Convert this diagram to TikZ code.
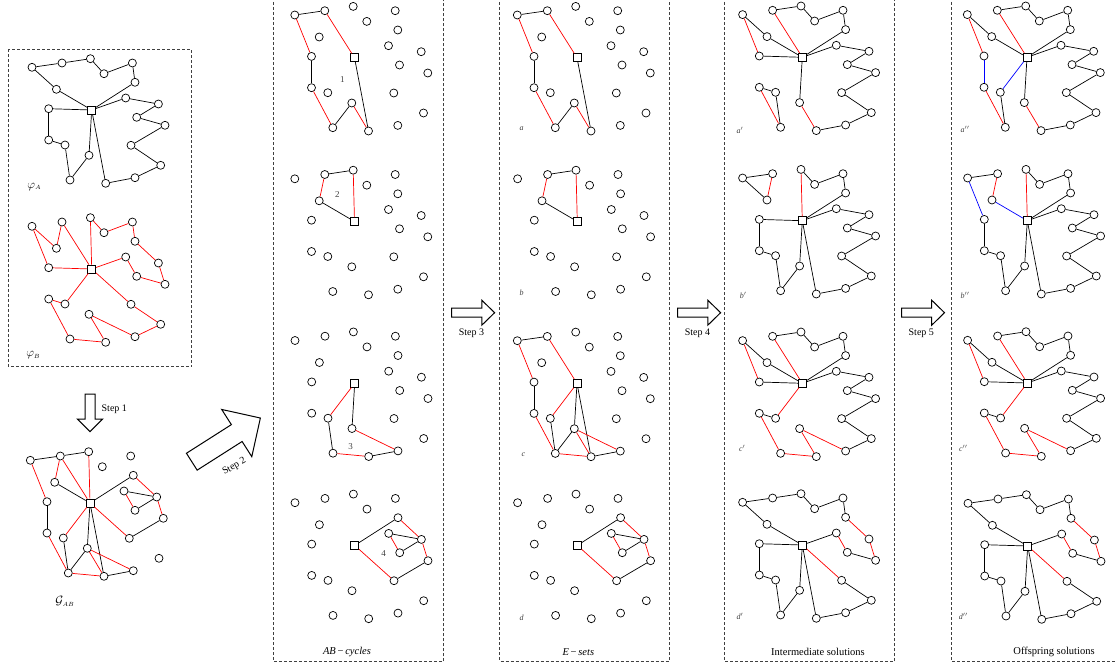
\documentclass[tikz,border=0pt]{standalone}
\usepackage{fontspec}
\setmainfont{Liberation Serif}
\begin{document}
\begin{tikzpicture}[x=1pt,y=-1pt,
  cust/.style={circle, draw, fill=white, inner sep=0pt, minimum size=8pt, line width=0.7pt},
  dep/.style={rectangle, draw, fill=white, inner sep=0pt, minimum size=8pt, line width=0.7pt},
  eA/.style={line width=0.7pt, black},
  eB/.style={line width=0.7pt, red},
  eC/.style={line width=0.7pt, blue},
  panel/.style={draw=black!75, line width=0.7pt, dash pattern=on 3pt off 2pt},
  bigarrow/.style={draw, line width=1pt, fill=white, line join=miter},
  steptxt/.style={font=\fontsize{10}{12}\selectfont, inner sep=0pt},
  lbl/.style={font=\fontsize{8}{9}\selectfont\itshape, text=black!75, inner sep=0pt},
  numlbl/.style={font=\fontsize{9}{10}\selectfont, text=black!75, inner sep=0pt},
  ttl/.style={font=\fontsize{10.5}{12}\selectfont, inner sep=0pt}]
\useasboundingbox (0,0) rectangle (1116,669);
\def\layout{1/-59.7/-42.7, 2/-29.7/-47, 3/-1.3/-51.3, 4/12.3/-36.3, 5/40.7/-47, 6/43.3/-27.7, 7/-35.3/-20.7, 8/34/-12, 9/66.7/-6, 10/45/7.3, 11/73.3/15.3, 12/-43/-1.3, 13/39.3/35.3, 14/-43/30, 15/-26.7/35, 16/-2.7/45.3, 17/69/55.3, 18/-21.7/70, 19/14/73.3, 20/43.3/67.7}
\newcommand\placegraph[3]{%
  \begin{scope}[shift={(#2,#3)}]
    \node[dep] (#1D) at (0,0) {};
    \foreach \k/\px/\py in \layout {\node[cust] (#1\k) at (\px,\py) {};}
  \end{scope}}
\newcommand\edgeset[3]{\foreach \u/\v in {#3} {\draw[#2] (#1\u) -- (#1\v);}}
\newcommand\bigarr[4]{% shaft length, total, shaft half, head half
  \draw[bigarrow] (0,-#3) -- (#1,-#3) -- (#1,-#4) -- (#2,0) -- (#1,#4) -- (#1,#3) -- (0,#3) -- cycle;}

% panels
\draw[panel] (8.3,49.3) rectangle (191.7,366.7);
\draw[panel] (273.5,-3) rectangle (443.5,661.7);
\draw[panel] (499.7,-3) rectangle (669.3,661.2);
\draw[panel] (724.7,-3) rectangle (894.7,661.7);
\draw[panel] (951.7,-3) rectangle (1125,661.7);

% parents
\placegraph{pa}{91.7}{110}
\edgeset{pa}{eA}{D/7,7/1,1/2,2/3,3/4,4/5,5/6,6/D,D/12,12/14,14/15,15/18,18/16,16/D,D/8,8/9,9/10,10/11,11/13,13/17,17/20,20/19,19/D}
\placegraph{pb}{91.7}{269}
\edgeset{pb}{eB}{D/12,12/1,1/7,7/2,2/D,D/3,3/4,4/5,5/6,6/9,9/11,11/10,10/8,8/D,D/15,15/14,14/18,18/19,19/16,16/20,20/17,17/13,13/D}
\node[font=\fontsize{12}{14}\selectfont, inner sep=0pt] (lpa) at (34.3,186.7) {$\varphi_{\scriptscriptstyle A}$};
\node[font=\fontsize{12}{14}\selectfont, inner sep=0pt] (lpb) at (33.3,355) {$\varphi_{\scriptscriptstyle B}$};

% G_AB
\placegraph{g}{90}{503}
\edgeset{g}{eA}{D/7,1/2,2/3,6/D,12/14,15/18,18/16,16/D,8/9,9/10,11/13,20/19,19/D}
\edgeset{g}{eB}{12/1,7/2,2/D,D/3,6/9,9/11,10/8,D/15,14/18,18/19,19/16,16/20,13/D}
\node[font=\fontsize{12}{14}\selectfont, inner sep=0pt] (lg) at (65,601.7) {$\mathcal{G}_{\scriptscriptstyle AB}$};

% AB-cycles
\placegraph{ca}{354.5}{57.7}
\edgeset{ca}{eA}{1/2,12/14,18/16,19/D}
\edgeset{ca}{eB}{2/D,1/12,14/18,16/19}
\placegraph{cb}{354.5}{221.5}
\edgeset{cb}{eA}{2/3,7/D}
\edgeset{cb}{eB}{3/D,7/2}
\placegraph{cc}{354.7}{383.2}
\edgeset{cc}{eA}{15/18,19/20,16/D}
\edgeset{cc}{eB}{D/15,18/19,20/16}
\placegraph{cd}{354.7}{545.4}
\edgeset{cd}{eA}{D/6,9/8,10/9,11/13}
\edgeset{cd}{eB}{6/9,8/10,9/11,13/D}
\node[numlbl] (n1) at (342.4,80) {1};
\node[numlbl] (n2) at (337.3,194.7) {2};
\node[numlbl] (n3) at (350.7,446.7) {3};
\node[numlbl] (n4) at (383.7,553.3) {4};
\node[ttl] (t1) at (347,651.7) {\textit{AB}\,−\,\textit{cycles}};

% E-sets
\placegraph{ea}{577}{57.7}
\edgeset{ea}{eA}{1/2,12/14,18/16,19/D}
\edgeset{ea}{eB}{2/D,1/12,14/18,16/19}
\placegraph{eb}{577.3}{221.5}
\edgeset{eb}{eA}{2/3,7/D}
\edgeset{eb}{eB}{3/D,7/2}
\placegraph{ec}{577}{383.4}
\edgeset{ec}{eA}{1/2,12/14,18/16,19/D,15/18,19/20,16/D}
\edgeset{ec}{eB}{2/D,1/12,14/18,16/19,D/15,18/19,20/16}
\placegraph{ed}{577.3}{545.4}
\edgeset{ed}{eA}{D/6,9/8,10/9,11/13}
\edgeset{ed}{eB}{6/9,8/10,9/11,13/D}
\node[lbl] (la) at (521.7,129) {a};
\node[lbl] (lb) at (521.7,292.7) {b};
\node[lbl] (lc) at (523.3,454.7) {c};
\node[lbl] (ld) at (521.7,617.7) {d};
\node[ttl] (t2) at (578.3,651.7) {\textit{E}\,−\,\textit{sets}};

% Intermediate
\placegraph{ia}{802.3}{57.3}
\edgeset{ia}{eA}{D/7,7/1,2/3,3/4,4/5,5/6,6/D,D/12,14/15,15/18,16/D,D/8,8/9,9/10,10/11,11/13,13/17,17/20,20/19}
\edgeset{ia}{eB}{2/D,1/12,14/18,16/19}
\placegraph{ib}{802.3}{220.7}
\edgeset{ib}{eA}{7/1,1/2,3/4,4/5,5/6,6/D,D/12,12/14,14/15,15/18,18/16,16/D,D/8,8/9,9/10,10/11,11/13,13/17,17/20,20/19,19/D}
\edgeset{ib}{eB}{3/D,7/2}
\placegraph{ic}{802.3}{383.3}
\edgeset{ic}{eA}{D/7,7/1,2/3,3/4,4/5,5/6,6/D,D/12,14/15,D/8,8/9,9/10,10/11,11/13,13/17,17/20}
\edgeset{ic}{eB}{2/D,1/12,14/18,16/19,D/15,18/19,20/16}
\placegraph{id}{802.3}{545}
\edgeset{id}{eA}{D/7,7/1,1/2,2/3,3/4,4/5,5/6,D/12,12/14,14/15,15/18,18/16,16/D,D/8,10/11,13/17,17/20,20/19,19/D}
\edgeset{id}{eB}{6/9,8/10,9/11,13/D}
\node[lbl] (lia) at (740,130) {a$'$};
\node[lbl] (lib) at (743.3,295) {b$'$};
\node[lbl] (lic) at (742.3,448.3) {c$'$};
\node[lbl] (lid) at (740,616.7) {d$'$};
\node[ttl] (t3) at (818,651.7) {Intermediate solutions};

% Offspring
\placegraph{oa}{1027}{57.3}
\edgeset{oa}{eA}{D/7,7/1,2/3,3/4,4/5,5/6,6/D,15/18,16/D,D/8,8/9,9/10,10/11,11/13,13/17,17/20,20/19}
\edgeset{oa}{eB}{2/D,1/12,14/18,16/19}
\edgeset{oa}{eC}{12/14,15/D}
\placegraph{ob}{1027.3}{220.7}
\edgeset{ob}{eA}{1/2,3/4,4/5,5/6,6/D,12/14,14/15,15/18,18/16,16/D,D/8,8/9,9/10,10/11,11/13,13/17,17/20,20/19,19/D}
\edgeset{ob}{eB}{3/D,7/2}
\edgeset{ob}{eC}{7/D,1/12}
\placegraph{oc}{1027.3}{383}
\edgeset{oc}{eA}{D/7,7/1,2/3,3/4,4/5,5/6,6/D,D/12,14/15,D/8,8/9,9/10,10/11,11/13,13/17,17/20}
\edgeset{oc}{eB}{2/D,1/12,14/18,16/19,D/15,18/19,20/16}
\placegraph{od}{1027.7}{546}
\edgeset{od}{eA}{D/7,7/1,1/2,2/3,3/4,4/5,5/6,D/12,12/14,14/15,15/18,18/16,16/D,D/8,10/11,13/17,17/20,20/19,19/D}
\edgeset{od}{eB}{6/9,8/10,9/11,13/D}
\node[lbl] (loa) at (965,129) {a$''$};
\node[lbl] (lob) at (965,295) {b$''$};
\node[lbl] (loc) at (963.3,448.3) {c$''$};
\node[lbl] (lod) at (963.3,616.7) {d$''$};
\node[ttl] (t4) at (1054,651.7) {Offspring solutions};

% step arrows
\begin{scope}[shift={(90,394)}, rotate=-90]\bigarr{25}{37.7}{5}{12.7}\end{scope}
\node[steptxt] (s1) at (114.3,409) {Step 1};
\begin{scope}[shift={(191.8,461.7)}, rotate=32.5]\bigarr{53.3}{81.3}{10}{28}\end{scope}
\node[steptxt, rotate=30] (s2) at (234.4,466.7) {Step 2};
\begin{scope}[shift={(451.7,312.7)}]\bigarr{30.1}{42.9}{4.5}{12.5}\end{scope}
\node[steptxt] (s3) at (471.4,333.3) {Step 3};
\begin{scope}[shift={(677.7,312.7)}]\bigarr{30.1}{42.9}{4.5}{12.5}\end{scope}
\node[steptxt] (s4) at (697.4,333.3) {Step 4};
\begin{scope}[shift={(901.6,312.7)}]\bigarr{30.1}{42.9}{4.5}{12.5}\end{scope}
\node[steptxt] (s5) at (921.3,333.3) {Step 5};
\end{tikzpicture}
\end{document}
